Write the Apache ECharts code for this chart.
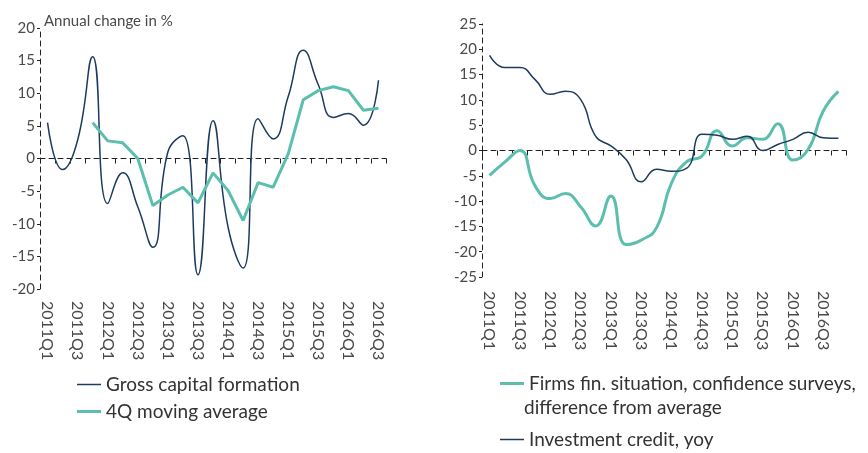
<!DOCTYPE html>
<html>
<head>
<meta charset="utf-8">
<script src="https://cdn.jsdelivr.net/npm/echarts@6/dist/echarts.min.js"></script>
<style>
  html, body { margin: 0; padding: 0; background: #fff; }
  #chart { width: 868px; height: 453px; }
</style>
</head>
<body>
<div id="chart"></div>
<script>
// quarters, left panel 2011Q1-2016Q3, right panel 2011Q1-2016Q4
var quartersLeft = ['2011Q1','2011Q2','2011Q3','2011Q4','2012Q1','2012Q2','2012Q3','2012Q4',
  '2013Q1','2013Q2','2013Q3','2013Q4','2014Q1','2014Q2','2014Q3','2014Q4',
  '2015Q1','2015Q2','2015Q3','2015Q4','2016Q1','2016Q2','2016Q3']
var quartersRight = quartersLeft.concat(['2016Q4'])

var grossCapital = [5.5, -1.7, 2.8, 15.6, -6.9, -2.2, -7.4, -13.6, 1.0, 3.5, -17.8, 5.8,
  -10.5, -16.8, 6.1, 3.0, 9.5, 16.6, 11.3, 6.3, 6.9, 5.1, 12.0]
var movingAvg = [null, null, null, 5.5, 2.7, 2.4, 0.0, -7.2, -5.6, -4.4, -6.8, -2.2,
  -4.9, -9.5, -3.7, -4.4, 0.7, 9.0, 10.4, 11.0, 10.4, 7.4, 7.7]

var firmsFin = [-4.9, -2.3, 0.0, -7.0, -9.5, -8.5, -11.1, -14.9, -9.0, -18.6, -17.7, -15.3,
  -6.4, -2.2, -1.1, 3.9, 0.9, 2.5, 2.2, 5.3, -1.9, 0.2, 7.8, 11.7]
var investCredit = [18.8, 16.4, 16.4, 14.0, 11.1, 11.7, 10.1, 2.8, 0.9, -1.8, -6.2, -3.7,
  -4.1, -3.5, 3.2, 3.0, 2.2, 2.8, 0.0, 1.2, 2.2, 3.6, 2.5, 2.4]

var navy = '#1d3a5f'
var teal = '#5cbfae'
var font = 'Lato'
var textColor = '#4a4a4a'

// legend icons: plain line strokes (thin for navy, thick for teal)
var thinIcon = 'path://M0,0L24,0L24,1.5L0,1.5Z'
var thickIcon = 'path://M0,0L24,0L24,3L0,3Z'

// dashed axis line on zero with small ticks, labels stay under the plot
function catAxis(gridIndex, data, margin) {
  return {
    type: 'category', gridIndex: gridIndex, data: data,
    axisLine: { show: true, onZero: true, lineStyle: { color: '#222', type: [5, 4], width: 1 } },
    axisTick: { show: true, interval: 0, length: 5, lineStyle: { color: '#222', width: 1 } },
    axisLabel: { interval: 1, rotate: -90, margin: margin, color: textColor, fontFamily: font, fontSize: 16 }
  }
}
function valueAxis(gridIndex, lim) {
  return {
    type: 'value', gridIndex: gridIndex, min: -lim, max: lim, interval: 5,
    splitLine: { show: false },
    axisLine: { show: true, lineStyle: { color: '#222', type: [5, 4], width: 1 } },
    axisTick: { show: true, length: 3, lineStyle: { color: '#222' } },
    axisLabel: { color: textColor, fontFamily: font, fontSize: 15, margin: 5 }
  }
}

var legendText = { color: '#333', fontFamily: font, fontSize: 19 }

var chart = echarts.init(document.getElementById('chart'))
chart.setOption({
  animation: false,
  title: {
    text: 'Annual change in %', left: 39, top: 9,
    textStyle: { color: textColor, fontFamily: font, fontSize: 15, fontWeight: 'normal' }
  },
  grid: [
    { left: 40, top: 28, width: 346, height: 261 },
    { left: 482, top: 24, width: 364, height: 253 }
  ],
  xAxis: [catAxis(0, quartersLeft, 12), catAxis(1, quartersRight, 14)],
  yAxis: [valueAxis(0, 20), valueAxis(1, 25)],
  legend: [
    {
      orient: 'vertical', left: 72, top: 370, itemWidth: 24, itemHeight: 20, itemGap: 8,
      data: [{ name: 'Gross capital formation', icon: thinIcon },
             { name: '4Q moving average', icon: thickIcon }],
      textStyle: legendText
    },
    {
      orient: 'vertical', left: 495, top: 369, itemWidth: 24, itemHeight: 20,
      data: [{ name: 'Firms fin. situation, confidence surveys,', icon: thickIcon }],
      textStyle: legendText
    },
    {
      orient: 'vertical', left: 495, top: 425, itemWidth: 24, itemHeight: 20,
      data: [{ name: 'Investment credit, yoy', icon: thinIcon }],
      textStyle: legendText
    }
  ],
  graphic: [{
    type: 'text', left: 524, top: 398,
    style: { text: 'difference from average', fill: '#333', font: '19px Lato' }
  }],
  series: [
    {
      name: 'Gross capital formation', type: 'line', xAxisIndex: 0, yAxisIndex: 0,
      data: grossCapital, smooth: 0.5, symbol: 'none',
      lineStyle: { color: navy, width: 1.5 }, itemStyle: { color: navy }
    },
    {
      name: '4Q moving average', type: 'line', xAxisIndex: 0, yAxisIndex: 0,
      data: movingAvg, symbol: 'none',
      lineStyle: { color: teal, width: 3 }, itemStyle: { color: teal }
    },
    {
      name: 'Firms fin. situation, confidence surveys,', type: 'line', xAxisIndex: 1, yAxisIndex: 1,
      data: firmsFin, smooth: 0.5, symbol: 'none',
      lineStyle: { color: teal, width: 3 }, itemStyle: { color: teal }
    },
    {
      name: 'Investment credit, yoy', type: 'line', xAxisIndex: 1, yAxisIndex: 1,
      data: investCredit, smooth: 0.5, symbol: 'none',
      lineStyle: { color: navy, width: 1.5 }, itemStyle: { color: navy }
    }
  ]
})
</script>
</body>
</html>
